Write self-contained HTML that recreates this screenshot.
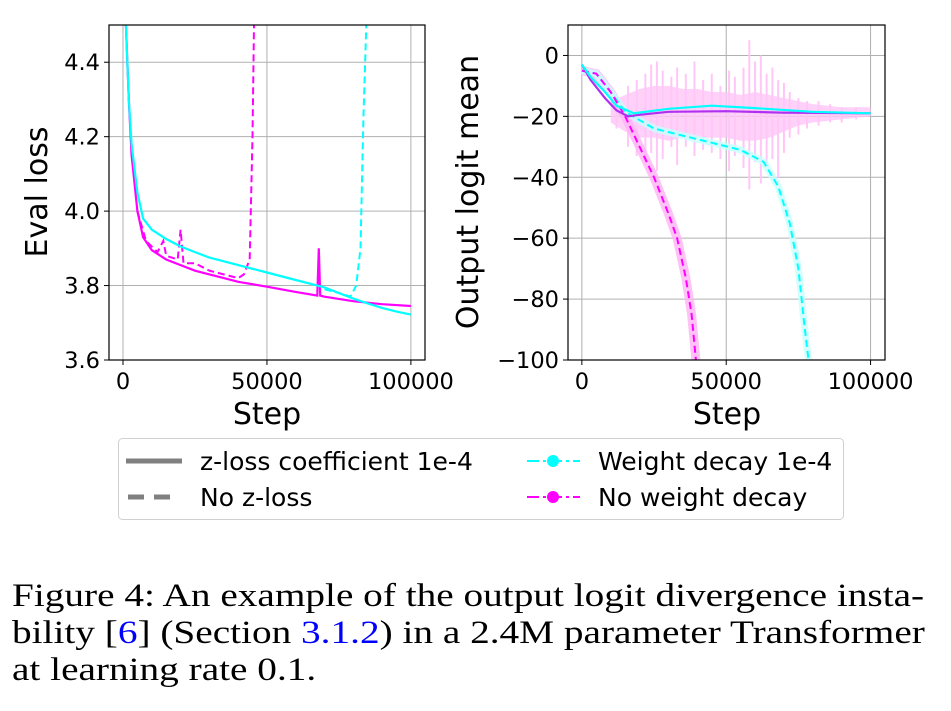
<!DOCTYPE html>
<html><head><meta charset="utf-8">
<style>
body{margin:0;background:#fff;width:951px;height:711px;overflow:hidden;position:relative;font-family:"DejaVu Sans",sans-serif}
svg{position:absolute;left:0;top:0}
.cap{position:absolute;left:12px;font-family:"Liberation Serif",serif;font-size:33px;line-height:37px;color:#000;white-space:nowrap;transform-origin:0 0}
.cap a{color:#00f;text-decoration:none}
</style></head>
<body>
<svg id="s" width="951" height="540"></svg>
<div class="cap" style="top:578px;transform:scaleX(1.19)">Figure 4: An example of the output logit divergence insta-</div>
<div class="cap" style="top:615px;transform:scaleX(1.19)">bility [<a>6</a>] (Section <a>3.1.2</a>) in a 2.4M parameter Transformer</div>
<div class="cap" style="top:652px;transform:scaleX(1.19)">at learning rate 0.1.</div>
<script>
const xTicks=[0,50000,100000];
const xTickLabels=["0","50000","100000"];
const lTicks=[3.6,3.8,4.0,4.2,4.4];
const lTickLabels=["3.6","3.8","4.0","4.2","4.4"];
const rTicks=[0,-20,-40,-60,-80,-100];
const rTickLabels=["0","−20","−40","−60","−80","−100"];
const evalCyanSolid=[[1000,4.5],[2000,4.3],[3000,4.18],[5000,4.05],[7000,3.98],[10000,3.95],[15000,3.925],[20000,3.905],[25000,3.89],[30000,3.875],[40000,3.855],[50000,3.835],[60000,3.815],[65000,3.805],[70000,3.795],[75000,3.78],[80000,3.765],[85000,3.752],[90000,3.74],[95000,3.73],[100000,3.722]];
const evalMagSolid=[[1000,4.5],[2000,4.3],[3000,4.15],[5000,4.0],[7000,3.93],[10000,3.895],[15000,3.87],[20000,3.855],[25000,3.84],[30000,3.83],[35000,3.82],[40000,3.81],[50000,3.797],[60000,3.783],[67500,3.773],[68000,3.9],[68500,3.773],[70000,3.77],[80000,3.758],[90000,3.75],[100000,3.745]];
const evalMagDashed=[[5000,4.0],[8000,3.92],[12000,3.89],[14000,3.92],[15000,3.88],[19000,3.87],[20000,3.95],[21000,3.86],[25000,3.86],[30000,3.84],[35000,3.83],[40000,3.82],[42000,3.83],[44000,3.87],[45000,4.2],[45500,4.5]];
const evalCyanDashed=[[70000,3.79],[75000,3.78],[79000,3.77],[81000,3.8],[82500,3.9],[83500,4.25],[84500,4.5]];
const logitPurpleSolid=[[0,-3],[3000,-8],[8000,-14],[12000,-18],[16000,-20],[20000,-19.5],[30000,-18.5],[50000,-18.3],[70000,-18.8],[100000,-19]];
const logitCyanSolid=[[0,-3],[3000,-7],[8000,-12],[12000,-16.5],[18000,-19],[30000,-17.5],[45000,-16.5],[60000,-17.3],[80000,-18.5],[100000,-19]];
const logitCyanDashed=[[0,-5],[5000,-6],[10000,-12],[15000,-18.5],[25000,-24],[40000,-27.5],[55000,-31],[63000,-35],[68000,-43],[72000,-55],[75000,-70],[77000,-88],[78500,-100]];
const logitMagDashed=[[0,-5],[5000,-6],[10000,-12],[15000,-20],[20000,-30],[25000,-40],[30000,-52],[33000,-60],[36000,-73],[38000,-85],[39500,-100]];
const noiseSteps=[10000,15000,20000,25000,30000,35000,40000,45000,50000,55000,60000,65000,70000,75000,80000,90000,100000];
const noiseTop=[-15,-13,-11,-10,-10,-11,-11,-12,-12,-13,-12,-13,-14,-15,-16,-17,-17];
const noiseBottom=[-22,-25,-27,-27,-28,-27,-27,-27,-27,-28,-28,-27,-25,-23,-22,-21,-20];
const spikeSteps=[12000,16000,19000,22000,24000,26000,28000,31000,33000,36000,39000,42000,45000,48000,51000,53000,56000,58000,60000,62000,64000,66000,68000,70000,72000,75000,78000,82000,86000,90000,95000];
const spikeTop=[-14,-10,-8,-6,-3,-2,-5,-7,-4,-6,-2,-8,-6,-10,-5,-7,-4,5,-2,0,-6,-4,-8,-9,-12,-14,-15,-15,-16,-17,-17];
const spikeBottom=[-24,-30,-33,-35,-32,-38,-34,-30,-36,-30,-33,-31,-32,-34,-38,-33,-37,-44,-35,-42,-36,-34,-40,-32,-27,-26,-24,-23,-22,-22,-21];
const NS="http://www.w3.org/2000/svg";
const svg=document.getElementById('s');
function el(t,a,p){const e=document.createElementNS(NS,t);for(const k in a)e.setAttribute(k,a[k]);(p||svg).appendChild(e);return e;}
function mk(x0,x1,y0,y1,px0,px1,py0,py1){return{x:v=>px0+(v-x0)/(x1-x0)*(px1-px0),y:v=>py1-(v-y0)/(y1-y0)*(py1-py0),L:px0,R:px1,T:py0,B:py1};}
const A=mk(-4860,104900,3.6,4.5,109,425,25,360);
const B=mk(-4800,105000,-100,10,568,885,25,360);
function frame(ax,yt,ytl,name){
  const g=el('g',{});
  const cp=el('clipPath',{id:'c'+name},g);el('rect',{x:ax.L,y:ax.T,width:ax.R-ax.L,height:ax.B-ax.T},cp);
  xTicks.forEach((t,i)=>{const x=ax.x(t);el('line',{x1:x,x2:x,y1:ax.T,y2:ax.B,stroke:'#b0b0b0','stroke-width':1},g);el('line',{x1:x,x2:x,y1:ax.B,y2:ax.B+5,stroke:'#000'},g);
    const tx=el('text',{x:x,y:ax.B+29,'text-anchor':'middle','font-size':22.5},g);tx.textContent=xTickLabels[i];});
  yt.forEach((t,i)=>{const y=ax.y(t);el('line',{x1:ax.L,x2:ax.R,y1:y,y2:y,stroke:'#b0b0b0','stroke-width':1},g);el('line',{x1:ax.L-5,x2:ax.L,y1:y,y2:y,stroke:'#000'},g);
    const tx=el('text',{x:ax.L-9,y:y+8,'text-anchor':'end','font-size':22.5},g);tx.textContent=ytl[i];});
  return g;
}
function line(ax,d,col,dash,w,name,op){const p=el('path',{d:'M'+d.map(q=>ax.x(q[0]).toFixed(1)+','+ax.y(q[1]).toFixed(1)).join('L'),fill:'none',stroke:col,'stroke-width':w||2,'stroke-dasharray':dash||'none','clip-path':ax===A?'url(#cleft)':'url(#cright)',opacity:op||1});return p;}
frame(A,lTicks,lTickLabels,'left');
frame(B,rTicks,rTickLabels,'right');
line(A,evalMagDashed,'#ff00ff','7,4',2,'eval-no-wd-no-zloss');
line(A,evalCyanDashed,'#00ffff','7,4',2,'eval-wd-no-zloss');
line(A,evalMagSolid,'#ff00ff','',2.2,'eval-no-wd-zloss');
line(A,evalCyanSolid,'#00ffff','',2.2,'eval-wd-zloss');
const band=el('path',{d:'M'+noiseSteps.map((s,i)=>B.x(s)+','+B.y(noiseTop[i])).join('L')+'L'+noiseSteps.map((s,i)=>[B.x(s),B.y(noiseBottom[i])]).reverse().map(q=>q.join(',')).join('L')+'Z',fill:'#ffc6f8',opacity:0.8,'clip-path':'url(#cright)'});

spikeSteps.forEach((s,i)=>{const l=el('line',{x1:B.x(s),x2:B.x(s),y1:B.y(spikeTop[i]),y2:B.y(spikeBottom[i]),stroke:'#ffc6f8','stroke-width':2});
  
  });
line(B,logitMagDashed,'#ffb3f5','',9,'logit-no-wd-band',0.8);
line(B,logitCyanDashed,'#c8ffff','',7,'logit-wd-band',0.8);
line(B,logitCyanDashed,'#00ffff','7,4',2,'logit-wd-no-zloss');
line(B,logitMagDashed,'#ff00ff','7,4',2,'logit-no-wd-no-zloss');
line(B,logitPurpleSolid,'#b030f0','',2.2,'logit-no-wd-zloss');
line(B,logitCyanSolid,'#00ffff','',2.2,'logit-wd-zloss');
[A,B].forEach(ax=>el('rect',{x:ax.L,y:ax.T,width:ax.R-ax.L,height:ax.B-ax.T,fill:'none',stroke:'#000','stroke-width':1.2}));
function lab(x,y,t,rot,name){const e=el('text',{x:x,y:y,'text-anchor':'middle','font-size':30,transform:rot?`rotate(-90 ${x} ${y})`:''});e.textContent=t;}
lab(267,424,'Step',0,'left-x-axis-title');
lab(727,424,'Step',0,'right-x-axis-title');
lab(47,192,'Eval loss',1,'left-y-axis-title');
lab(478,192,'Output logit mean',1,'right-y-axis-title');
const lg=el('g',{});
el('rect',{x:118.5,y:438.5,width:725,height:81,rx:4,fill:'#fff',stroke:'#d0d0d0'},lg);
function entry(x,y,t,draw,name){const g=el('g',{},lg);draw(g);const tx=el('text',{x:x,y:y+9,'font-size':25},g);tx.textContent=t;}
entry(200,461,'z-loss coefficient 1e-4',g=>el('line',{x1:126,x2:182,y1:461,y2:461,stroke:'#808080','stroke-width':5},g),'legend-zloss');
entry(200,497,'No z-loss',g=>el('line',{x1:128,x2:180,y1:497,y2:497,stroke:'#808080','stroke-width':5,'stroke-dasharray':'16,10'},g),'legend-no-zloss');
entry(598,461,'Weight decay 1e-4',g=>{el('line',{x1:527,x2:580,y1:461,y2:461,stroke:'#00ffff','stroke-width':2,'stroke-dasharray':'12,4,3,4'},g);el('circle',{cx:553,cy:461,r:6,fill:'#00ffff'},g);},'legend-weight-decay');
entry(598,497,'No weight decay',g=>{el('line',{x1:527,x2:580,y1:497,y2:497,stroke:'#ff00ff','stroke-width':2,'stroke-dasharray':'12,4,3,4'},g);el('circle',{cx:553,cy:497,r:6,fill:'#ff00ff'},g);},'legend-no-weight-decay');
</script>
</body></html>
